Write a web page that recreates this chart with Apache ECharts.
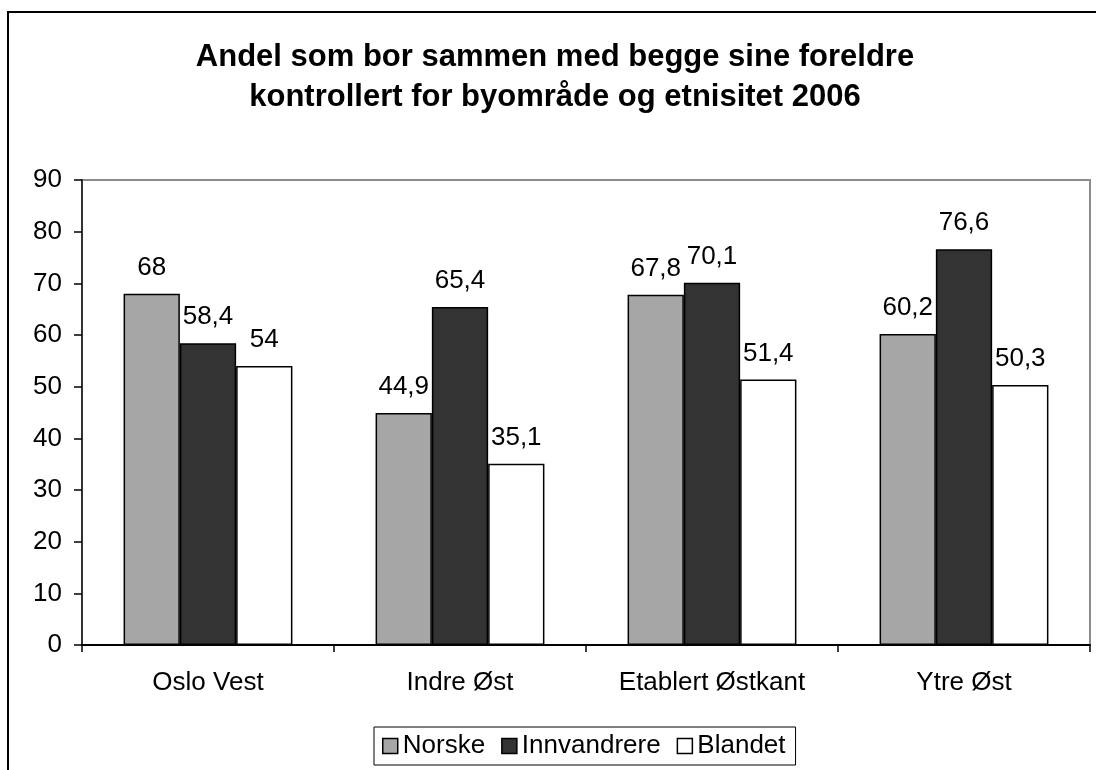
<!DOCTYPE html>
<html>
<head>
<meta charset="utf-8">
<script src="https://cdn.jsdelivr.net/npm/echarts@6/dist/echarts.min.js"></script>
<style>
html,body{margin:0;padding:0;background:#fff;}
#main{width:1096px;height:770px;}
</style>
</head>
<body>
<div id="main"></div>
<script>
// data
var categories = ['Oslo Vest', 'Indre Øst', 'Etablert Østkant', 'Ytre Øst'];
var norske = [68, 44.9, 67.8, 60.2];
var innvandrere = [58.4, 65.4, 70.1, 76.6];
var blandet = [54, 35.1, 51.4, 50.3];
var seriesNames = ['Norske', 'Innvandrere', 'Blandet'];

var FONT = '"Liberation Sans", Arial, sans-serif';

function commaLabel(p){
	return String(p.value).replace('.', ',');
}

function makeBar(name, data, color){
	return {
		name: name,
		type: 'bar',
		data: data,
		barGap: 0,
		barCategoryGap: '33%',
		itemStyle: {color: color, borderColor: '#000', borderWidth: 1.5},
		label: {
			show: true,
			position: 'top',
			distance: 13,
			color: '#000',
			fontFamily: FONT,
			fontSize: 26,
			formatter: commaLabel
		}
	};
}

var chart = echarts.init(document.getElementById('main'), null, {renderer: 'canvas'});

var option = {
	animation: false,
	backgroundColor: '#fff',
	title: {
		text: 'Andel som bor sammen med begge sine foreldre\nkontrollert for byområde og etnisitet 2006',
		left: 550,
		textAlign: 'center',
		top: 32,
		textStyle: {
			fontFamily: FONT,
			fontSize: 31,
			fontWeight: 'bold',
			color: '#000',
			lineHeight: 40
		}
	},
	graphic: [{
		type: 'rect',
		shape: {x: 8, y: 12, width: 1200, height: 1000},
		style: {fill: 'none', stroke: '#000', lineWidth: 2},
		silent: true
	}],
	legend: {
		data: seriesNames,
		left: 374,
		top: 727,
		orient: 'horizontal',
		itemWidth: 15,
		itemHeight: 15,
		itemGap: 16,
		padding: [6, 10, 6, 8],
		borderColor: '#000',
		borderWidth: 1,
		icon: 'rect',
		itemStyle: {borderColor: '#000', borderWidth: 1.5},
		textStyle: {fontFamily: FONT, fontSize: 26, color: '#000'}
	},
	grid: {
		left: 82,
		right: 6,
		top: 180,
		bottom: 125,
		show: true,
		borderColor: '#8c8c8c',
		borderWidth: 2,
		containLabel: false
	},
	xAxis: {
		type: 'category',
		data: categories,
		axisLine: {show: true, lineStyle: {color: '#000', width: 2}},
		axisTick: {show: true, length: 7, alignWithLabel: false, lineStyle: {color: '#000', width: 1.5}},
		axisLabel: {color: '#000', fontFamily: FONT, fontSize: 26, margin: 25},
		splitLine: {show: false}
	},
	yAxis: {
		type: 'value',
		min: 0,
		max: 90,
		interval: 10,
		axisLine: {show: true, lineStyle: {color: '#333', width: 2}},
		axisTick: {show: true, length: 8, lineStyle: {color: '#000', width: 1.5}},
		axisLabel: {color: '#000', fontFamily: FONT, fontSize: 26, margin: 20},
		splitLine: {show: false}
	},
	series: [
		makeBar(seriesNames[0], norske, '#a6a6a6'),
		makeBar(seriesNames[1], innvandrere, '#333333'),
		makeBar(seriesNames[2], blandet, '#ffffff')
	]
};

chart.setOption(option);
</script>
</body>
</html>
